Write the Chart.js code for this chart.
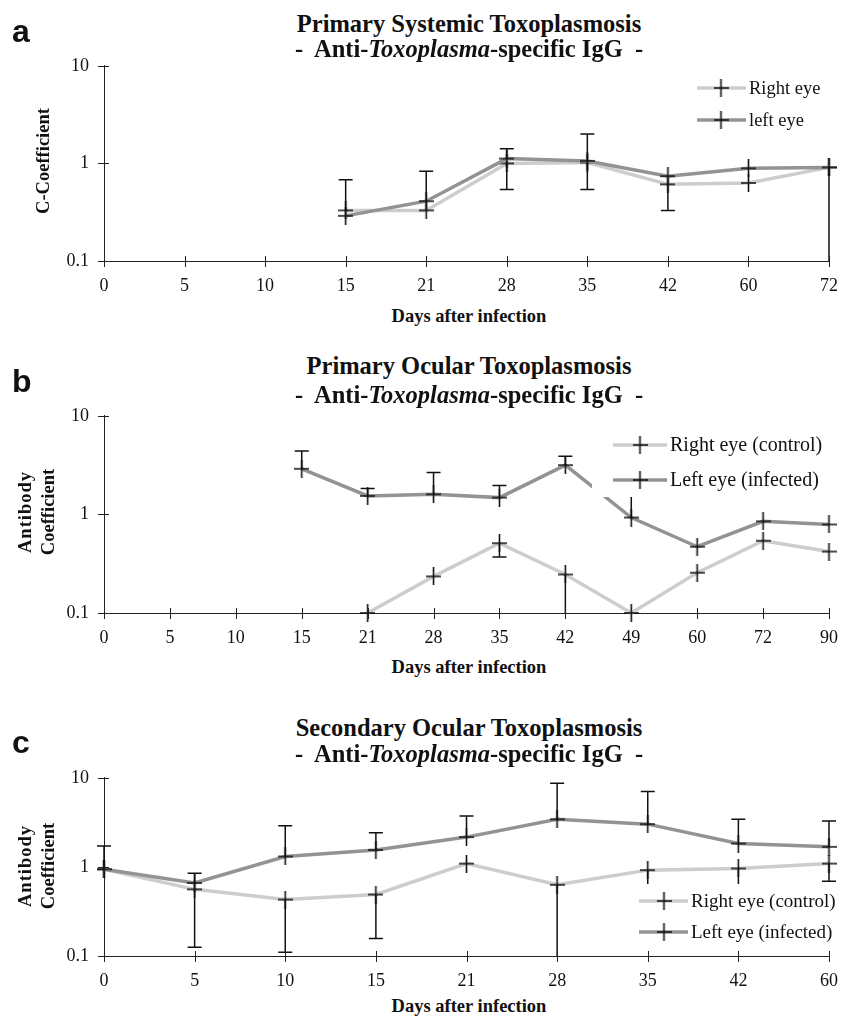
<!DOCTYPE html>
<html><head><meta charset="utf-8">
<script src="https://cdn.jsdelivr.net/npm/chart.js@4.4.1/dist/chart.umd.min.js"></script>
<style>
html,body{margin:0;padding:0;background:#fff;}
body{width:852px;height:1019px;position:relative;overflow:hidden;}
canvas{position:absolute;left:0;}
.t{position:absolute;font-family:'Liberation Serif','Times New Roman',serif;font-weight:bold;white-space:pre;line-height:1;color:#111;z-index:2;}
.c{transform:translateX(-50%);}
.L{position:absolute;font-family:'Liberation Sans',Arial,sans-serif;font-weight:bold;font-size:32px;line-height:1;color:#111;z-index:2;}
.yt{position:absolute;font-family:'Liberation Serif','Times New Roman',serif;font-weight:bold;font-size:18.5px;line-height:23px;text-align:center;white-space:pre;transform:translate(-50%,-50%) rotate(-90deg);color:#111;z-index:2;}
</style></head><body>

<div class="L" style="left:12px;top:15px">a</div>
<div class="t c" style="left:469px;top:11.5px;font-size:24.5px">Primary Systemic Toxoplasmosis</div>
<div class="t c" style="left:469px;top:36.5px;font-size:24.5px">-  Anti-<i>Toxoplasma</i>-specific IgG  -</div>
<div class="yt" style="left:43px;top:161px">C-Coefficient</div>
<canvas id="ca" width="852" height="260" style="top:40px"></canvas>
<div class="t c" style="left:469px;top:306.5px;font-size:18.5px">Days after infection</div>

<div class="L" style="left:12px;top:365px">b</div>
<div class="t c" style="left:469px;top:353.5px;font-size:24.5px">Primary Ocular Toxoplasmosis</div>
<div class="t c" style="left:469px;top:382.5px;font-size:24.5px">-  Anti-<i>Toxoplasma</i>-specific IgG  -</div>
<div class="yt" style="left:36.5px;top:512px"><span style="letter-spacing:1px">Antibody</span>
Coefficient</div>
<canvas id="cb" width="852" height="262" style="top:390px"></canvas>
<div class="t c" style="left:469px;top:657.5px;font-size:18.5px">Days after infection</div>

<div class="L" style="left:12px;top:726px">c</div>
<div class="t c" style="left:469px;top:715.5px;font-size:24.5px">Secondary Ocular Toxoplasmosis</div>
<div class="t c" style="left:469px;top:741.5px;font-size:24.5px">-  Anti-<i>Toxoplasma</i>-specific IgG  -</div>
<div class="yt" style="left:36.5px;top:866px"><span style="letter-spacing:1px">Antibody</span>
Coefficient</div>
<canvas id="cc" width="852" height="243" style="top:752px"></canvas>
<div class="t c" style="left:469px;top:996.5px;font-size:18.5px">Days after infection</div>

<script>
// ---------- data ----------
const yTicks = [0.1, 1, 10];

const aDays = ['0','5','10','15','21','28','35','42','60','72'];
const aRight = [null,null,null,0.33,0.33,1.0,1.02,0.61,0.63,0.91];
const aLeft  = [null,null,null,0.29,0.41,1.12,1.06,0.74,0.89,0.91];
const aRightHi = [null,null,null,0.68,null,null,null,null,null,null];
const aRightLo = [null,null,null,null,null,0.54,0.54,0.33,null,0.1];
const aLeftHi  = [null,null,null,null,0.83,1.41,2.0,null,null,null];
const aNames = ['Right eye','left eye'];

const bDays = ['0','5','10','15','21','28','35','42','49','60','72','90'];
const bRight = [null,null,null,null,0.1,0.235,0.51,0.246,0.1,0.256,0.54,0.42];
const bLeft  = [null,null,null,2.9,1.54,1.6,1.48,3.16,0.93,0.47,0.85,0.79];
const bRightLo = [null,null,null,null,null,null,0.37,0.1,null,null,null,null];
const bLeftHi  = [null,null,null,4.4,1.83,2.66,1.96,3.88,1.6,null,null,null];
const bNames = ['Right eye (control)','Left eye (infected)'];

const cDays = ['0','5','10','15','21','28','35','42','60'];
const cRight = [0.94,0.56,0.43,0.49,1.09,0.63,0.92,0.96,1.09];
const cLeft  = [0.94,0.66,1.31,1.55,2.16,3.42,3.02,1.83,1.68];
const cRightLo = [null,0.125,0.11,0.157,null,0.1,0.5,0.5,0.69];
const cLeftHi  = [1.72,0.85,2.9,2.41,3.72,8.7,7.0,3.42,3.28];
const cNames = ['Right eye (control)','Left eye (infected)'];

// ---------- styles ----------
const LIGHT = '#cdcdcd';
const DARK = '#939393';
const INK = '#111';
const SERIF = "'Liberation Serif','Times New Roman',serif";

function makeCross(w, h, lw) {
  const c = document.createElement('canvas');
  c.width = w; c.height = h;
  const g = c.getContext('2d');
  g.strokeStyle = INK; g.lineWidth = lw;
  g.beginPath();
  g.moveTo(0, h / 2); g.lineTo(w, h / 2);
  g.moveTo(w / 2, 0); g.lineTo(w / 2, h);
  g.stroke();
  return c;
}
const CROSS = makeCross(15, 18, 1.6);

const extras = {
  id: 'extras',
  afterDatasetsDraw(chart, args, opts) {
    const ctx = chart.ctx;
    const xs = chart.scales.x, ys = chart.scales.y;
    const ca = chart.chartArea;
    ctx.save();
    // error bars
    ctx.strokeStyle = INK; ctx.lineWidth = 1.5;
    (opts.errs || []).forEach(e => {
      const base = chart.data.datasets[e.ds].data;
      e.vals.forEach((v, i) => {
        if (v == null || base[i] == null) return;
        const px = xs.getPixelForValue(i);
        const p0 = ys.getPixelForValue(base[i]);
        const vv = Math.max(v, ys.min);
        const p1 = ys.getPixelForValue(vv);
        ctx.beginPath();
        ctx.moveTo(px, p0); ctx.lineTo(px, p1);
        if (v > ys.min) { ctx.moveTo(px - 7, p1); ctx.lineTo(px + 7, p1); }
        ctx.stroke();
      });
    });
    // legend
    const L = opts.legend;
    if (L) {
      ctx.fillStyle = '#fff';
      ctx.fillRect(L.box[0], L.box[1], L.box[2] - L.box[0], L.box[3] - L.box[1]);
      chart.data.datasets.forEach((ds, k) => {
        const yy = L.rows[k];
        ctx.strokeStyle = ds.borderColor; ctx.lineWidth = 3.5;
        ctx.beginPath(); ctx.moveTo(L.x0, yy); ctx.lineTo(L.x1, yy); ctx.stroke();
        ctx.drawImage(CROSS, L.xc - CROSS.width / 2, yy - CROSS.height / 2);
        ctx.fillStyle = INK;
        ctx.font = L.size + 'px ' + SERIF;
        ctx.textAlign = 'left'; ctx.textBaseline = 'middle';
        ctx.fillText(ds.label, L.xt, yy + 1);
      });
    }
    // crossing tick marks
    ctx.strokeStyle = '#222'; ctx.lineWidth = 1;
    ctx.beginPath();
    xs.ticks.forEach((t, i) => {
      const px = Math.round(xs.getPixelForTick(i)) + 0.5;
      ctx.moveTo(px, ca.bottom - 5); ctx.lineTo(px, ca.bottom + 6);
    });
    ys.ticks.forEach((t, i) => {
      const py = Math.round(ys.getPixelForTick(i)) + 0.5;
      ctx.moveTo(ca.left - 6, py); ctx.lineTo(ca.left + 5, py);
    });
    ctx.stroke();
    ctx.restore();
  }
};

function makeChart(id, labels, right, left, names, errs, legend) {
  const common = { borderWidth: 3.5, pointStyle: CROSS, pointRadius: 8, pointBorderWidth: 0,
                   tension: 0, fill: false, clip: false, spanGaps: false };
  new Chart(document.getElementById(id), {
    type: 'line',
    data: {
      labels: labels,
      datasets: [
        Object.assign({ label: names[0], data: right, borderColor: LIGHT, backgroundColor: LIGHT, order: 1 }, common),
        Object.assign({ label: names[1], data: left, borderColor: DARK, backgroundColor: DARK, order: 0 }, common)
      ]
    },
    options: {
      responsive: false, animation: false, events: [],
      layout: { padding: { top: 21, right: 16, left: 0, bottom: 0 } },
      plugins: { legend: { display: false }, tooltip: { enabled: false },
                 extras: { errs: errs, legend: legend } },
      scales: {
        x: {
          type: 'category', offset: false,
          grid: { display: false, drawTicks: false },
          border: { display: true, color: '#222', width: 1 },
          ticks: { font: { family: SERIF, size: 18 }, color: INK, padding: 14, autoSkip: false, maxRotation: 0 },
          afterFit: s => { s.height = 39; }
        },
        y: {
          type: 'logarithmic', min: 0.1, max: 10,
          grid: { display: false, drawTicks: false },
          border: { display: true, color: '#222', width: 1 },
          ticks: { font: { family: SERIF, size: 18 }, color: INK, padding: 15, callback: v => String(v) },
          afterBuildTicks: s => { s.ticks = yTicks.map(v => ({ value: v })); },
          afterFit: s => { s.width = 104; }
        }
      }
    },
    plugins: [extras]
  });
}

makeChart('ca', aDays, aRight, aLeft, aNames,
  [{ ds: 0, vals: aRightHi }, { ds: 0, vals: aRightLo }, { ds: 1, vals: aLeftHi }],
  { box: [690, 30, 845, 95], rows: [48, 80], x0: 697, x1: 746, xc: 721, xt: 749, size: 18.5 });

makeChart('cb', bDays, bRight, bLeft, bNames,
  [{ ds: 0, vals: bRightLo }, { ds: 1, vals: bLeftHi }],
  { box: [592, 35, 845, 107], rows: [55, 90], x0: 613, x1: 667, xc: 640, xt: 670, size: 20 });

makeChart('cc', cDays, cRight, cLeft, cNames,
  [{ ds: 0, vals: cRightLo }, { ds: 1, vals: cLeftHi }],
  { box: [630, 132, 845, 193], rows: [149, 180], x0: 639, x1: 688, xc: 664, xt: 691, size: 19 });
</script>
</body></html>
